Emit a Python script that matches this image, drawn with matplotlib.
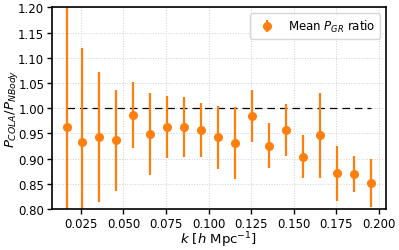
import numpy as np
import matplotlib
matplotlib.use("Agg")
import matplotlib.pyplot as plt

k = [0.0170, 0.0255, 0.0355, 0.0455, 0.0555, 0.0655, 0.0755, 0.0855, 0.0955,
     0.1055, 0.1155, 0.1255, 0.1355, 0.1455, 0.1555, 0.1655, 0.1755, 0.1855, 0.1955]
ratio = [0.963, 0.932, 0.943, 0.936, 0.987, 0.949, 0.963, 0.963, 0.957,
         0.942, 0.931, 0.984, 0.926, 0.957, 0.904, 0.946, 0.871, 0.869, 0.852]
err = [0.26, 0.188, 0.128, 0.100, 0.065, 0.082, 0.062, 0.060, 0.053,
       0.062, 0.071, 0.052, 0.045, 0.052, 0.043, 0.084, 0.054, 0.036, 0.047]

plt.rcParams['font.size'] = 8.5
plt.rcParams['axes.linewidth'] = 1.2

fig, ax = plt.subplots(figsize=(3.99, 2.51), dpi=100)
ax.grid(True, color='#d0d0d0', linestyle=':', linewidth=0.7)
ax.set_axisbelow(True)
ax.plot(k, np.ones(len(k)), 'k--', linewidth=0.9, dashes=(6, 4))
ax.errorbar(k, ratio, yerr=err, fmt='o', color='#ff7f0e', markersize=5.5,
            elinewidth=1.6, label="Mean $P_{GR}$ ratio")
ax.set_xlim(0.008, 0.204)
ax.set_ylim(0.80, 1.20)
ax.set_xticks([0.025, 0.050, 0.075, 0.100, 0.125, 0.150, 0.175, 0.200])
ax.set_yticks(np.arange(0.80, 1.201, 0.05))
ax.tick_params(width=1.0, length=3.5, pad=2)
ax.set_xlabel("$k$ [$h$ Mpc$^{-1}$]", fontsize=9.5, labelpad=0)
ax.set_ylabel("$P_{COLA}/P_{NBody}$", fontsize=9.5, labelpad=0)
ax.yaxis.set_label_coords(-0.095, 0.5)
ax.legend(loc='upper right', fontsize=8.5)
fig.subplots_adjust(left=0.13, right=0.967, top=0.967, bottom=0.163)
fig.savefig("out.png")
